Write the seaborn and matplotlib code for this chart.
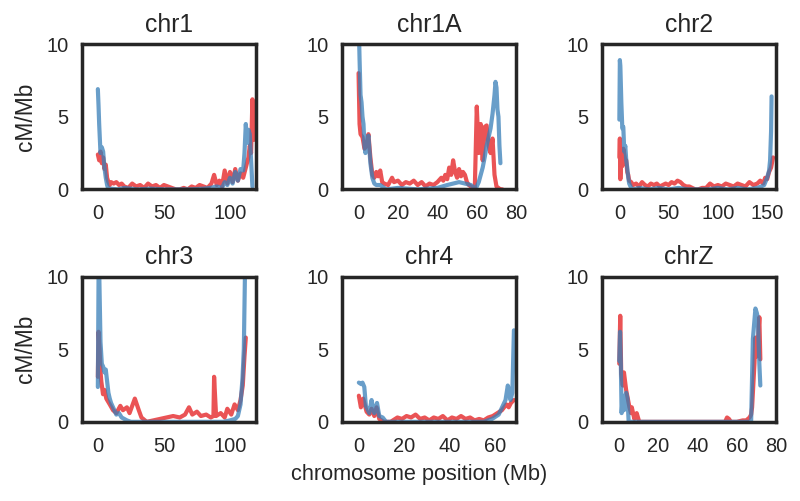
import matplotlib
matplotlib.use("Agg")
import matplotlib.pyplot as plt
import seaborn as sns

# recombination rate (cM/Mb) along each chromosome, two maps
chromosomes = ["chr1", "chr1A", "chr2", "chr3", "chr4", "chrZ"]

chr1_red_pos = [0, 1, 2, 3, 4, 5, 6, 7, 8, 9, 10, 12, 14, 16, 18, 20, 23, 26, 29, 32, 35, 38, 41, 44, 47, 50,
                53, 56, 59, 62, 65, 68, 71, 74, 77, 80, 83, 86, 88, 90, 92, 94, 96, 98, 100, 102, 104, 106,
                108, 110, 112, 114, 115, 116, 117, 118]
chr1_red = [2.4, 2.0, 2.6, 1.8, 2.2, 1.4, 1.7, 0.8, 0.5, 0.3, 0.5, 0.4, 0.5, 0.3, 0.4, 0.2, 0.1, 0.4, 0.2, 0.3,
            0.1, 0.4, 0.2, 0.3, 0.1, 0.3, 0.2, 0.1, 0.0, 0.0, 0.1, 0.0, 0.2, 0.1, 0.3, 0.2, 0.1, 0.4, 1.0, 0.3,
            0.6, 0.2, 1.3, 0.4, 1.2, 0.5, 1.4, 0.6, 1.1, 0.8, 1.5, 2.2, 3.0, 2.5, 6.2, 3.4]
chr1_blue_pos = [0, 0.5, 1, 2, 3, 4, 5, 6, 7, 8, 10, 15, 20, 30, 40, 50, 60, 70, 80, 85, 90, 94, 96, 98, 100,
                 102, 104, 106, 108, 110, 111, 112, 113, 114, 115, 116, 117]
chr1_blue = [6.9, 5.8, 4.5, 2.5, 2.9, 2.6, 1.5, 0.8, 0.3, 0.0, 0.05, 0.0, 0.1, 0.0, 0.05, 0.0, 0.0, 0.0, 0.05,
             0.1, 0.2, 0.1, 0.5, 0.3, 0.8, 0.4, 1.2, 0.6, 1.4, 1.3, 2.5, 4.5, 3.2, 4.1, 3.8, 2.0, 0.2]

chr1A_red_pos = [0, 0.5, 1, 2, 3, 4, 5, 6, 7, 8, 9, 10, 11, 12, 13, 15, 17, 18, 20, 22, 24, 26, 28, 30, 32, 34,
                 36, 38, 40, 42, 43, 44, 45, 46, 47, 48, 49, 50, 51, 52, 53, 54, 55, 56, 57, 58, 59, 60, 61,
                 62, 63, 64, 65, 66, 67, 68, 69, 70, 71, 72, 73]
chr1A_red = [8.0, 4.5, 3.8, 3.6, 2.8, 3.0, 3.8, 2.2, 1.0, 0.8, 1.2, 0.9, 1.3, 0.5, 0.4, 0.3, 0.8, 0.5, 0.6, 0.3,
             0.5, 0.4, 0.6, 0.3, 0.5, 0.2, 0.4, 0.3, 0.5, 0.8, 0.6, 1.0, 0.7, 1.5, 1.0, 2.0, 1.2, 0.8, 1.4, 0.9,
             1.2, 1.0, 0.5, 0.3, 0.2, 0.0, 0.1, 5.7, 2.5, 4.5, 2.0, 4.3, 4.4, 3.0, 2.5, 3.5, 1.0, 0.2, 0.1, 0.0,
             0.0]
chr1A_blue_pos = [0, 0.5, 1, 1.5, 2, 2.5, 3, 3.5, 4, 5, 6, 7, 8, 9, 11, 14, 20, 30, 40, 45, 48, 51, 54, 57, 58,
                  59, 60, 61, 62, 63, 64, 65, 66, 67, 68, 69, 69.5, 70, 70.5, 71, 71.5, 72]
chr1A_blue = [12.0, 9.0, 6.5, 6.0, 5.0, 4.5, 3.0, 2.5, 3.0, 3.7, 1.8, 0.8, 0.4, 0.3, 0.3, 0.0, 0.1, 0.0, 0.1,
              0.3, 0.4, 0.5, 0.4, 0.3, 0.2, 0.0, 0.2, 0.5, 1.0, 1.5, 2.2, 3.0, 3.6, 4.2, 5.2, 6.5, 7.4, 7.0,
              5.5, 5.0, 3.0, 1.8]

chr2_red_pos = [0, 0.5, 1, 2, 3, 4, 5, 6, 7, 8, 9, 10, 12, 14, 17, 20, 23, 26, 29, 32, 35, 38, 41, 44, 47, 50,
                53, 56, 59, 62, 65, 68, 71, 74, 77, 80, 84, 88, 92, 96, 100, 104, 108, 112, 116, 120, 124, 128,
                132, 136, 140, 143, 146, 148, 150, 152, 154, 156]
chr2_red = [2.2, 3.5, 0.7, 2.5, 1.6, 2.8, 2.4, 2.0, 2.0, 1.2, 1.0, 0.6, 0.5, 0.3, 0.4, 0.2, 0.5, 0.3, 0.2, 0.4,
            0.3, 0.4, 0.2, 0.3, 0.4, 0.3, 0.5, 0.4, 0.6, 0.5, 0.3, 0.2, 0.2, 0.1, 0.0, 0.0, 0.1, 0.1, 0.4, 0.2,
            0.3, 0.2, 0.4, 0.3, 0.2, 0.4, 0.3, 0.2, 0.5, 0.3, 0.4, 0.6, 0.4, 0.8, 0.7, 1.2, 1.5, 2.2]
chr2_blue_pos = [0, 0.5, 1, 2, 3, 4, 5, 6, 7, 8, 9, 10, 12, 14, 20, 30, 40, 50, 60, 70, 80, 90, 100, 110, 120,
                 130, 140, 144, 147, 150, 152, 153, 154, 154.5]
chr2_blue = [4.8, 8.9, 8.5, 6.0, 4.2, 4.3, 2.6, 3.0, 2.0, 1.5, 0.8, 0.4, 0.1, 0.0, 0.1, 0.0, 0.1, 0.0, 0.1, 0.0,
             0.0, 0.0, 0.1, 0.0, 0.1, 0.0, 0.1, 0.2, 0.3, 0.8, 1.3, 2.0, 4.0, 6.4]

chr3_red_pos = [0, 0.5, 1.3, 2, 2.6, 3.9, 5, 6.4, 9, 11.5, 14, 17, 19, 22, 24, 28, 31, 33, 37, 42, 47, 52, 57,
                62, 66, 69, 71.5, 75, 78, 82, 85.5, 87.5, 88, 89.5, 93, 96, 98, 101, 103.5, 106, 108, 109.7,
                111, 112]
chr3_red = [3.1, 6.2, 5.0, 3.5, 2.8, 1.9, 2.2, 1.6, 1.2, 0.8, 0.6, 1.1, 0.8, 1.0, 0.6, 1.6, 0.8, 0.3, 0.0, 0.1,
            0.2, 0.3, 0.4, 0.3, 0.5, 1.0, 0.5, 0.7, 0.4, 0.5, 0.3, 0.4, 3.1, 0.4, 0.6, 0.3, 0.9, 0.5, 1.2, 0.8,
            1.5, 2.5, 4.5, 5.8]
chr3_blue_pos = [0, 0.3, 0.6, 1, 1.5, 2, 3, 4, 5, 6, 7, 8, 9, 10, 12, 14, 16, 18, 20, 22, 25, 35, 50, 65, 80,
                 95, 100, 104, 106, 108, 109.5, 110.5, 111.5]
chr3_blue = [2.4, 6.5, 11.0, 10.5, 8.0, 5.5, 4.0, 3.8, 3.4, 3.6, 2.8, 2.0, 1.6, 1.3, 0.9, 0.5, 0.6, 0.3, 0.2,
             0.1, 0.0, 0.0, 0.0, 0.0, 0.0, 0.0, 0.1, 0.2, 0.4, 1.2, 3.0, 5.0, 11.0]

chr4_red_pos = [0, 0.9, 1.9, 3.4, 4.6, 5.6, 6.8, 7.8, 9, 11, 14, 17, 19, 21, 23, 25, 27, 29, 31, 33, 35, 37, 39,
                41, 43, 45, 47, 49, 51, 53, 55, 57, 59, 61, 63, 65, 66, 67, 68.3]
chr4_red = [1.8, 1.0, 1.6, 0.7, 0.5, 0.9, 0.4, 1.0, 0.2, 0.0, 0.0, 0.3, 0.2, 0.4, 0.3, 0.5, 0.2, 0.3, 0.1, 0.3,
            0.2, 0.4, 0.1, 0.3, 0.2, 0.4, 0.2, 0.3, 0.1, 0.2, 0.1, 0.3, 0.4, 0.6, 0.8, 1.2, 1.0, 1.3, 1.5]
chr4_blue_pos = [0, 1, 1.6, 2.4, 3.1, 4, 4.6, 5.6, 6.2, 6.8, 7.4, 8, 9, 10.5, 12, 20, 30, 40, 50, 55, 58.7, 61.6,
                 63.1, 64.6, 65.6, 66.2, 66.8, 67.6, 68.3]
chr4_blue = [2.7, 2.6, 2.7, 2.4, 1.1, 0.8, 0.6, 1.5, 1.0, 0.6, 0.9, 1.3, 0.4, 0.3, 0.0, 0.0, 0.0, 0.0, 0.0, 0.0,
             0.2, 0.5, 1.0, 1.5, 2.5, 2.2, 1.5, 2.0, 6.3]

chrZ_red_pos = [0, 0.5, 1, 1.8, 2.4, 3.5, 4.5, 5.2, 6, 6.4, 7.7, 8.9, 10.2, 30, 54, 55, 56, 57, 60, 63, 64.8,
                66.5, 67.3, 67.8, 69, 69.5, 70.3, 71, 71.5, 72]
chrZ_red = [4.0, 7.3, 3.3, 2.5, 3.4, 2.2, 1.5, 1.0, 0.6, 1.0, 0.2, 0.6, 0.0, 0.0, 0.0, 0.3, 0.2, 0.0, 0.0, 0.1,
            0.1, 0.3, 0.5, 1.0, 4.0, 5.8, 4.5, 6.0, 7.2, 4.3]
chrZ_blue_pos = [0, 0.4, 0.8, 1.2, 1.8, 2.4, 3.5, 4.2, 4.8, 30, 67.3, 68.2, 69.5, 70.2, 70.7, 71.5, 72]
chrZ_blue = [4.2, 6.2, 4.0, 0.6, 1.8, 0.8, 2.0, 1.6, 0.0, 0.0, 0.0, 5.7, 7.8, 7.5, 7.2, 4.0, 2.5]

x_limits = [(-12, 120), (-8.5, 78.6), (-18, 159), (-12, 120), (-7.5, 69.3), (-9, 79.6)]
x_ticks = [[0, 50, 100], [0, 20, 40, 60, 80], [0, 50, 100, 150],
           [0, 50, 100], [0, 20, 40, 60], [0, 20, 40, 60, 80]]

red_series = [(chr1_red_pos, chr1_red), (chr1A_red_pos, chr1A_red), (chr2_red_pos, chr2_red),
              (chr3_red_pos, chr3_red), (chr4_red_pos, chr4_red), (chrZ_red_pos, chrZ_red)]
blue_series = [(chr1_blue_pos, chr1_blue), (chr1A_blue_pos, chr1A_blue), (chr2_blue_pos, chr2_blue),
               (chr3_blue_pos, chr3_blue), (chr4_blue_pos, chr4_blue), (chrZ_blue_pos, chrZ_blue)]

sns.set_theme(style="white", context="talk")
plt.rcParams['font.family'] = ['Liberation Sans', 'DejaVu Sans']

red, blue = sns.color_palette("Set1")[:2]
xpad = plt.rcParams['xtick.major.pad'] - 1.8
ypad = plt.rcParams['ytick.major.pad'] - 2.9

fig, axes = plt.subplots(2, 3, figsize=(8, 5.01), dpi=100)
fig.subplots_adjust(left=0.1025, right=0.97, bottom=0.158, top=0.912, wspace=0.49, hspace=0.6)

for i, ax in enumerate(axes.flat):
    rx, ry = red_series[i]
    bx, by = blue_series[i]
    sns.lineplot(x=rx, y=ry, ax=ax, color=red, alpha=0.75, lw=3, estimator=None)
    sns.lineplot(x=bx, y=by, ax=ax, color=blue, alpha=0.75, lw=3, estimator=None)
    ax.set_xlim(*x_limits[i])
    ax.set_ylim(0, 10)
    ax.set_xticks(x_ticks[i])
    ax.set_yticks([0, 5, 10])
    ax.set_title(chromosomes[i], fontsize=17.8, pad=9)
    ax.tick_params(labelsize=14.4)
    ax.tick_params(axis="x", pad=xpad)
    ax.tick_params(axis="y", pad=ypad)
    for sp in ax.spines.values():
        sp.set_linewidth(2.5)
        sp.set_color("#262626")
    if i % 3 == 0:
        ax.set_ylabel("cM/Mb", fontsize=16.4, labelpad=7)

fig.text(0.524, 0.052, "chromosome position (Mb)", ha="center", va="center", fontsize=15.7)

plt.savefig("out.png")
